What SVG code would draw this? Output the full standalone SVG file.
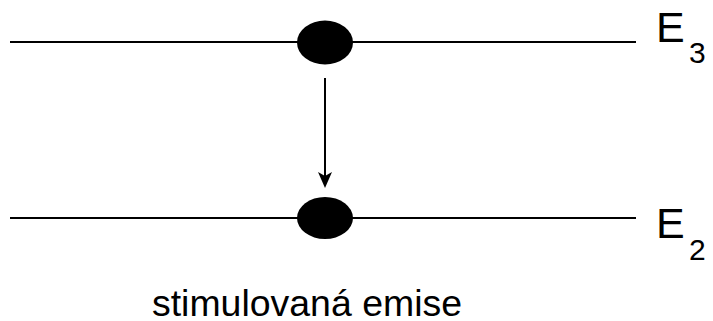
<svg xmlns="http://www.w3.org/2000/svg" width="713" height="321" viewBox="0 0 713 321">
  <style>
    .level { stroke: #000; stroke-width: 2; }
    .atom { fill: #000; }
    .label { font-family: "Liberation Sans", Arial, sans-serif; fill: #000; }
  </style>
  <rect width="713" height="321" fill="#fff"/>
  <g id="level-E3">
    <line class="level" x1="10" y1="42" x2="636" y2="42"/>
    <ellipse class="atom" cx="325" cy="42.5" rx="28" ry="22"/>
    <text class="label" x="656" y="42" font-size="43">E</text>
    <text class="label" x="689" y="63" font-size="30">3</text>
  </g>
  <g id="level-E2">
    <line class="level" x1="10" y1="218" x2="636" y2="218"/>
    <ellipse class="atom" cx="325" cy="218" rx="28" ry="21"/>
    <text class="label" x="656" y="238" font-size="43">E</text>
    <text class="label" x="689" y="260" font-size="30">2</text>
  </g>
  <g id="connectors">
    <line x1="325" y1="78" x2="325" y2="178" stroke="#000" stroke-width="2"/>
    <path d="M318,172 L325,176 L332,172 L325,188 Z" fill="#000"/>
  </g>
  <text class="label" x="152" y="316" font-size="36" textLength="310" lengthAdjust="spacingAndGlyphs">stimulovaná emise</text>
</svg>
